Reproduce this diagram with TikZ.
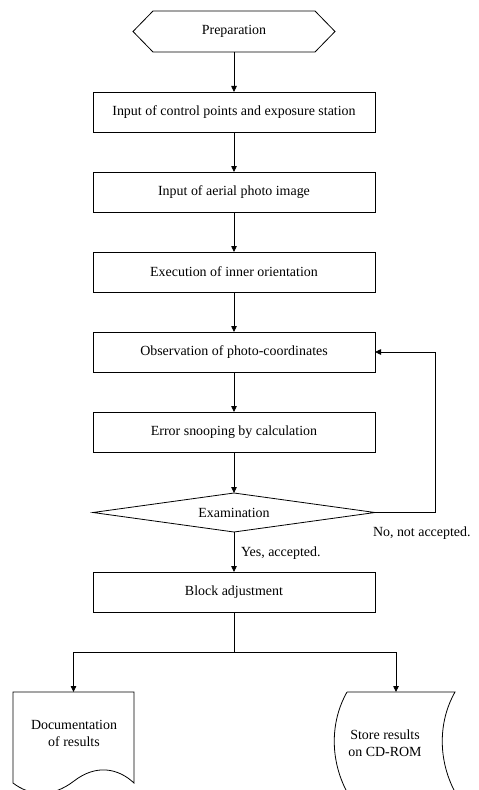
\documentclass[tikz,border=0pt]{standalone}
\usepackage{fontspec}
\setmainfont{Liberation Serif}
\usetikzlibrary{arrows.meta}
\begin{document}
\begin{tikzpicture}[x=1bp,y=-1bp,
  line width=0.8bp,
  every node/.style={font=\fontsize{14}{17}\selectfont, inner sep=0pt, outer sep=0pt},
  proc/.style={draw, minimum width=282bp, minimum height=40bp},
  arr/.style={-{Triangle[length=6bp,width=5.5bp]}}]
\useasboundingbox (0,0) rectangle (479,790);

% start terminal (hexagon)
\node (prep) [minimum width=202bp, minimum height=41bp] at (234,31.5) {Preparation};
\draw ([xshift=20bp]prep.north west) -- ([xshift=-20bp]prep.north east) -- (prep.east)
  -- ([xshift=-20bp]prep.south east) -- ([xshift=20bp]prep.south west) -- (prep.west) -- cycle;

% processing steps
\node[proc] (ctrl)  at (234,112) {Input of control points and exposure station};
\node[proc] (img)   at (234,192) {Input of aerial photo image};
\node[proc] (inner) at (234,272) {Execution of inner orientation};
\node[proc] (obs)   at (234,352) {Observation of photo-coordinates};
\node[proc] (err)   at (234,432) {Error snooping by calculation};

% decision
\node (exam) [minimum width=282bp, minimum height=39bp] at (234,512.5) {Examination};
\draw (exam.north) -- (exam.east) -- (exam.south) -- (exam.west) -- cycle;

\node[proc] (block) at (234,592) {Block adjustment};

% outputs: document and stored data
\node (doc) [minimum width=121bp, minimum height=91bp] at (73.5,737.5) {};
\node (doctext) [align=center] at (74,733.5) {Documentation\\of results};
\draw (doc.north west) -- (doc.north east) -- (doc.south east)
  .. controls (118,768) and (96,764) .. (74,781)
  .. controls (52,798) and (30,796) .. (doc.south west) -- cycle;

\node (store) [minimum width=108bp, minimum height=100bp] at (401,742) {};
\node (storetext) [align=center] at (385,743.5) {Store results\\on CD-ROM};
\draw (store.north west) -- (store.north east)
  .. controls +(-17,30) and +(-17,-32) .. (store.south east)
  -- (store.south west)
  .. controls +(-17,-32) and +(-17,30) .. (store.north west);

% connectors
\draw[arr] (prep.south) -- (ctrl.north);
\draw[arr] (ctrl.south) -- (img.north);
\draw[arr] (img.south) -- (inner.north);
\draw[arr] (inner.south) -- (obs.north);
\draw[arr] (obs.south) -- (err.north);
\draw[arr] (err.south) -- (exam.north);
\draw[arr] (exam.south) -- (block.north);
\draw[arr] (exam.east) -- ++(60,0) |- (obs.east);

\node (yes) [anchor=west] at (241,553) {Yes, accepted.};
\node (no) [anchor=west] at (373,533.5) {No, not accepted.};

\coordinate (split) at (234,652);
\draw (block.south) -- (split);
\draw[arr] (split) -| (doc.north);
\draw[arr] (split) -| ([xshift=-5bp]store.north);
\end{tikzpicture}
\end{document}
